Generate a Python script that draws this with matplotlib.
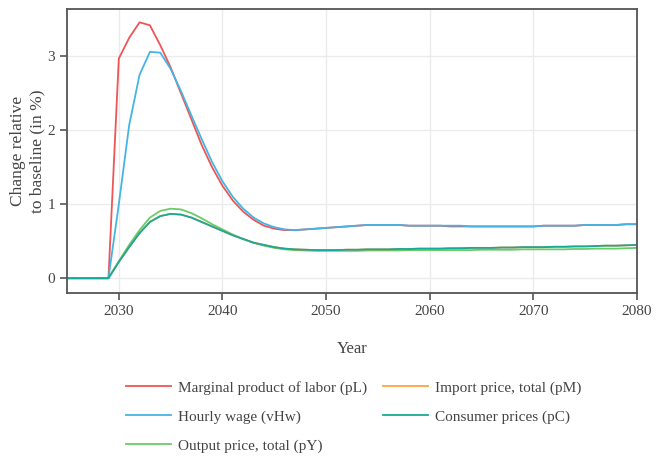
import matplotlib.pyplot as plt

plt.rcParams['font.family'] = ['Liberation Serif', 'DejaVu Serif']

years = list(range(2025, 2081))

# yearly deviations from baseline, in percent
pL = [0, 0, 0, 0, 0,
      2.97, 3.25, 3.46, 3.42, 3.15, 2.85, 2.50, 2.15, 1.80, 1.50,
      1.25, 1.05, 0.90, 0.79, 0.71, 0.67, 0.65, 0.65, 0.66, 0.67,
      0.68, 0.69, 0.70, 0.71, 0.72, 0.72, 0.72, 0.72, 0.71, 0.71,
      0.71, 0.71, 0.70, 0.70, 0.70, 0.70, 0.70, 0.70, 0.70, 0.70,
      0.70, 0.71, 0.71, 0.71, 0.71, 0.72, 0.72, 0.72, 0.72, 0.73,
      0.73]
vHw = [0, 0, 0, 0, 0,
       1.00, 2.07, 2.75, 3.06, 3.05, 2.83, 2.53, 2.20, 1.88, 1.57,
       1.31, 1.10, 0.94, 0.82, 0.74, 0.69, 0.66, 0.65, 0.66, 0.67,
       0.68, 0.69, 0.70, 0.71, 0.72, 0.72, 0.72, 0.72, 0.71, 0.71,
       0.71, 0.71, 0.71, 0.71, 0.70, 0.70, 0.70, 0.70, 0.70, 0.70,
       0.70, 0.71, 0.71, 0.71, 0.71, 0.72, 0.72, 0.72, 0.72, 0.73,
       0.73]
pC = [0, 0, 0, 0, 0,
      0.22, 0.42, 0.61, 0.76, 0.84, 0.87, 0.86, 0.82, 0.76, 0.70,
      0.64, 0.58, 0.53, 0.48, 0.45, 0.42, 0.40, 0.39, 0.385, 0.38,
      0.38, 0.38, 0.385, 0.385, 0.39, 0.39, 0.39, 0.395, 0.395, 0.40,
      0.40, 0.40, 0.405, 0.405, 0.41, 0.41, 0.41, 0.415, 0.415, 0.42,
      0.42, 0.42, 0.425, 0.425, 0.43, 0.43, 0.435, 0.44, 0.44, 0.445,
      0.45]
pM = list(pC)
pY = [0, 0, 0, 0, 0,
      0.23, 0.45, 0.65, 0.82, 0.91, 0.94, 0.93, 0.88, 0.81, 0.73,
      0.66, 0.59, 0.53, 0.48, 0.44, 0.41, 0.39, 0.38, 0.375, 0.37,
      0.37, 0.37, 0.37, 0.37, 0.375, 0.375, 0.375, 0.375, 0.38, 0.38,
      0.38, 0.38, 0.38, 0.38, 0.38, 0.385, 0.385, 0.385, 0.385, 0.39,
      0.39, 0.39, 0.39, 0.39, 0.395, 0.395, 0.40, 0.40, 0.40, 0.405,
      0.41]

series = {
    "pL": ("Marginal product of labor (pL)", pL, "#EF5555"),
    "pM": ("Import price, total (pM)", pM, "#FFA040"),
    "vHw": ("Hourly wage (vHw)", vHw, "#45B4E4"),
    "pC": ("Consumer prices (pC)", pC, "#17A99A"),
    "pY": ("Output price, total (pY)", pY, "#6ACB6A"),
}
draw_order = ["pY", "pL", "pM", "vHw", "pC"]
# legend fills column by column
legend_order = ["pL", "vHw", "pY", "pM", "pC"]

fig = plt.figure(figsize=(6.68, 4.57), dpi=100)
ax = fig.add_axes([67 / 668, 1 - 293 / 457, 570 / 668, 284 / 457])

handles = {}
for k in draw_order:
    name, vals, col = series[k]
    handles[k], = ax.plot(years, vals, color=col, lw=1.3, label=name)

ax.set_xlim(2025, 2080)
ax.set_ylim(-0.2, 3.64)
ax.set_xticks([2030, 2040, 2050, 2060, 2070, 2080])
ax.set_yticks([0, 1, 2, 3])
ax.grid(True, color="#ebebeb", lw=1)
ax.set_axisbelow(True)
for s in ax.spines.values():
    s.set_color("#555555")
    s.set_linewidth(1.3)
ax.tick_params(colors="#555555", labelcolor="#444444", labelsize=11,
               length=5, width=1.2, direction="out")
ax.set_xlabel("Year", fontsize=12, color="#444444", labelpad=17)
ax.set_ylabel("Change relative\nto baseline (in %)", fontsize=12.5,
              color="#444444", labelpad=1.5, linespacing=1.25)

fig.legend([handles[k] for k in legend_order],
           [series[k][0] for k in legend_order], ncol=2,
           loc="upper center", bbox_to_anchor=(0.53, 1 - 367 / 457),
           frameon=False, fontsize=11, labelcolor="#444444",
           handlelength=2.9, handletextpad=0.5, columnspacing=1.05,
           labelspacing=1.0)

fig.savefig("out.png", dpi=100)
